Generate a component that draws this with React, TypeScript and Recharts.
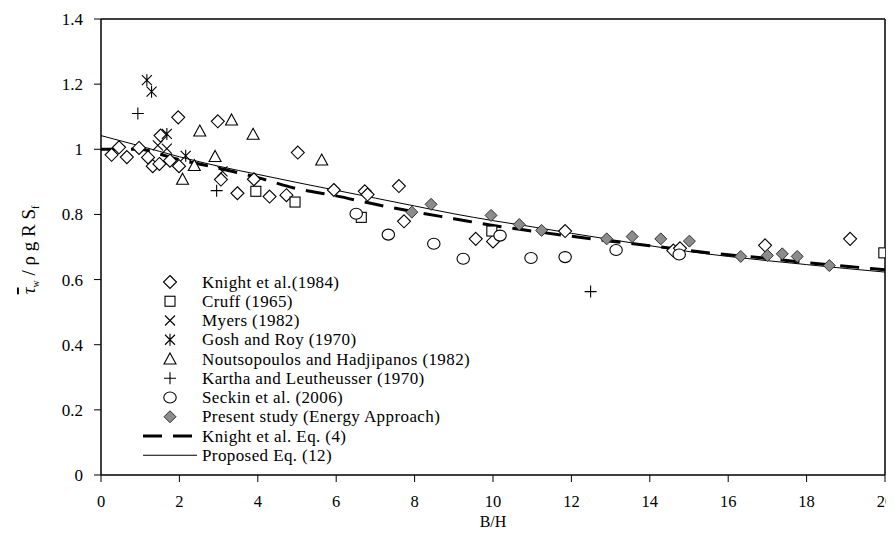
import React from 'react';
import { ComposedChart, Scatter, Line, XAxis, YAxis, ReferenceLine } from 'recharts';

// B/H vs normalised wall shear
const knight1984: [number, number][] = [
  [0.27, 0.983], [0.46, 1.006], [0.66, 0.976], [0.97, 1.004], [1.2, 0.975], [1.32, 0.948],
  [1.49, 0.955], [1.52, 1.042], [1.76, 0.965], [1.97, 1.098], [1.99, 0.948], [2.98, 1.086],
  [3.06, 0.907], [3.48, 0.865], [3.9, 0.908], [4.3, 0.855], [4.73, 0.859], [5.02, 0.99],
  [5.94, 0.875], [6.73, 0.871], [6.8, 0.861], [7.6, 0.887], [7.73, 0.779], [9.56, 0.725],
  [10.0, 0.717], [11.84, 0.749], [14.6, 0.689], [14.77, 0.696], [16.94, 0.705], [19.11, 0.725],
];
const cruff1965: [number, number][] = [
  [3.95, 0.871], [4.95, 0.838], [6.64, 0.791], [9.97, 0.749], [19.97, 0.682],
];
const myers1982: [number, number][] = [
  [1.45, 1.012], [1.68, 1.002], [3.1, 0.932],
];
const goshRoy1970: [number, number][] = [
  [1.17, 1.212], [1.29, 1.177], [1.68, 1.047], [2.16, 0.98],
];
const noutsopoulos1982: [number, number][] = [
  [2.08, 0.908], [2.38, 0.95], [2.52, 1.056], [2.91, 0.978], [3.33, 1.09], [3.88, 1.046], [5.63, 0.967],
];
const kartha1970: [number, number][] = [
  [0.94, 1.11], [2.95, 0.873], [12.49, 0.563],
];
const seckin2006: [number, number][] = [
  [6.51, 0.802], [7.33, 0.738], [8.49, 0.71], [9.24, 0.664], [10.18, 0.735],
  [10.97, 0.666], [11.84, 0.669], [13.14, 0.691], [14.75, 0.677],
];
const presentStudy: [number, number][] = [
  [7.93, 0.807], [8.42, 0.831], [9.95, 0.797], [10.67, 0.769], [11.24, 0.751], [12.9, 0.725],
  [13.55, 0.732], [14.28, 0.725], [15.01, 0.718], [16.32, 0.671], [17.0, 0.674], [17.38, 0.679],
  [17.76, 0.671], [18.58, 0.643],
];
const knightEq4: [number, number][] = [
  [0, 1.0], [0.5, 1.0], [1, 1.0], [1.5, 0.985], [2, 0.968], [2.5, 0.955], [3, 0.942], [4, 0.913],
  [5, 0.879], [6, 0.857], [7, 0.831], [8, 0.808], [9, 0.787], [10, 0.766], [11, 0.749], [12, 0.733],
  [13, 0.718], [14, 0.704], [15, 0.689], [16, 0.676], [17, 0.665], [18, 0.652], [19, 0.641], [20, 0.63],
];
const proposedEq12: [number, number][] = [
  [0, 1.042], [1, 1.01], [2, 0.977], [3, 0.948], [4, 0.923], [5, 0.898], [6, 0.874], [7, 0.85],
  [8, 0.826], [9, 0.802], [10, 0.781], [11, 0.762], [12, 0.742], [13, 0.723], [14, 0.704],
  [15, 0.686], [16, 0.671], [17, 0.658], [18, 0.646], [19, 0.634], [20, 0.623],
];

const xTicks = [0, 2, 4, 6, 8, 10, 12, 14, 16, 18, 20];
const yTicks = [0, 0.2, 0.4, 0.6, 0.8, 1, 1.2, 1.4];

const legendLabels = [
  'Knight et al.(1984)',
  'Cruff (1965)',
  'Myers (1982)',
  'Gosh and Roy (1970)',
  'Noutsopoulos and Hadjipanos (1982)',
  'Kartha and Leutheusser (1970)',
  'Seckin et al. (2006)',
  'Present study (Energy Approach)',
  'Knight et al. Eq. (4)',
  'Proposed Eq. (12)',
];

const toPts = (arr: [number, number][]) => arr.map(([x, y]) => ({ x, y }));

const FONT = '"Liberation Serif", "Times New Roman", serif';

type Mark = 'diamond' | 'square' | 'x' | 'star' | 'triangle' | 'plus' | 'circle' | 'filled';

function marker(kind: Mark, cx: number, cy: number) {
  const s = { stroke: '#000', strokeWidth: 1.1, fill: 'none' };
  switch (kind) {
    case 'diamond':
      return <path d={`M${cx},${cy - 6.5}L${cx + 6.5},${cy}L${cx},${cy + 6.5}L${cx - 6.5},${cy}Z`} {...s} fill="#fff" />;
    case 'filled':
      return <path d={`M${cx},${cy - 6}L${cx + 6},${cy}L${cx},${cy + 6}L${cx - 6},${cy}Z`} stroke="#333" strokeWidth={1} fill="#8c8c8c" />;
    case 'square':
      return <rect x={cx - 5} y={cy - 5} width={10} height={10} {...s} fill="#fff" />;
    case 'circle':
      return <ellipse cx={cx} cy={cy} rx={6.2} ry={5.5} {...s} fill="#fff" />;
    case 'triangle':
      return <path d={`M${cx},${cy - 6}L${cx + 6},${cy + 5}L${cx - 6},${cy + 5}Z`} {...s} fill="#fff" />;
    case 'plus':
      return <path d={`M${cx - 6},${cy}H${cx + 6}M${cx},${cy - 6}V${cy + 6}`} {...s} />;
    case 'x':
      return <path d={`M${cx - 5},${cy - 5}L${cx + 5},${cy + 5}M${cx + 5},${cy - 5}L${cx - 5},${cy + 5}`} {...s} />;
    case 'star':
      return (
        <path
          d={`M${cx - 5},${cy - 5}L${cx + 5},${cy + 5}M${cx + 5},${cy - 5}L${cx - 5},${cy + 5}M${cx},${cy - 6}V${cy + 6}`}
          {...s}
        />
      );
  }
}

const shapeOf = (kind: Mark) => (props: any) => <g>{marker(kind, props.cx, props.cy)}</g>;

const legendMarks: Mark[] = ['diamond', 'square', 'x', 'star', 'triangle', 'plus', 'circle', 'filled'];

export default function App() {
  const W = 886;
  const H = 522;
  return (
    <div style={{ position: 'relative', width: W, height: H, background: '#fff' }}>
      <style>{'.recharts-surface{overflow:visible !important}'}</style>
      <ComposedChart width={W} height={H} margin={{ top: 11, right: 9, left: 0, bottom: 0 }}>
        <XAxis
          type="number"
          dataKey="x"
          domain={[0, 20]}
          ticks={xTicks}
          allowDataOverflow
          tickSize={7}
          tickMargin={13}
          height={55}
          axisLine={{ stroke: '#000', strokeWidth: 1.5 }}
          tickLine={{ stroke: '#000' }}
          tick={{ fill: '#000', fontSize: 16.5, fontFamily: FONT }}
        />
        <YAxis
          type="number"
          dataKey="y"
          domain={[0, 1.4]}
          ticks={yTicks}
          allowDataOverflow
          width={93}
          tickSize={7}
          tickMargin={11}
          axisLine={{ stroke: '#000', strokeWidth: 1.5 }}
          tickLine={{ stroke: '#000' }}
          tick={{ fill: '#000', fontSize: 17, fontFamily: FONT }}
          tickFormatter={(v: number) => String(Math.round(v * 10) / 10)}
        />
        <ReferenceLine y={1.4} stroke="#000" strokeWidth={1.5} />
        <ReferenceLine x={20} stroke="#000" strokeWidth={1.5} />
        <Line data={toPts(proposedEq12)} dataKey="y" type="monotone" stroke="#000" strokeWidth={1} dot={false} activeDot={false} isAnimationActive={false} />
        <Line data={toPts(knightEq4)} dataKey="y" type="monotone" stroke="#000" strokeWidth={3} strokeDasharray="19 11" dot={false} activeDot={false} isAnimationActive={false} />
        <Scatter data={toPts(knight1984)} dataKey="y" shape={shapeOf('diamond')} isAnimationActive={false} />
        <Scatter data={toPts(cruff1965)} dataKey="y" shape={shapeOf('square')} isAnimationActive={false} />
        <Scatter data={toPts(noutsopoulos1982)} dataKey="y" shape={shapeOf('triangle')} isAnimationActive={false} />
        <Scatter data={toPts(seckin2006)} dataKey="y" shape={shapeOf('circle')} isAnimationActive={false} />
        <Scatter data={toPts(presentStudy)} dataKey="y" shape={shapeOf('filled')} isAnimationActive={false} />
        <Scatter data={toPts(myers1982)} dataKey="y" shape={shapeOf('x')} isAnimationActive={false} />
        <Scatter data={toPts(goshRoy1970)} dataKey="y" shape={shapeOf('star')} isAnimationActive={false} />
        <Scatter data={toPts(kartha1970)} dataKey="y" shape={shapeOf('plus')} isAnimationActive={false} />
      </ComposedChart>
      <svg width={W} height={H} style={{ position: 'absolute', left: 0, top: 0, pointerEvents: 'none', overflow: 'visible' }}>
        {legendLabels.map((label, i) => {
          const y = 274 + i * 19.25;
          let sym: React.ReactNode;
          if (i < 8) {
            sym = marker(legendMarks[i], 162, y);
          } else if (i === 8) {
            sym = <line x1={135} x2={189} y1={y} y2={y} stroke="#000" strokeWidth={3} strokeDasharray="19 11" />;
          } else {
            sym = <line x1={135} x2={189} y1={y} y2={y} stroke="#000" strokeWidth={1} />;
          }
          return (
            <g key={label}>
              {sym}
              <text x={194} y={y + 5.5} fontSize={17} letterSpacing={0.4} fontFamily={FONT} fill="#000">
                {label}
              </text>
            </g>
          );
        })}
        <text x={485} y={519} textAnchor="middle" fontSize={16} fontFamily={FONT} fill="#000">
          B/H
        </text>
        <text
          transform="translate(27,242) rotate(-90)"
          textAnchor="middle"
          fontSize={19}
          fontFamily={FONT}
          fill="#000"
        >
          <tspan fontStyle="italic" textDecoration="overline">τ</tspan>
          <tspan fontSize={10} dy={4}>w</tspan>
          <tspan dy={-4}> / ρ g R S</tspan>
          <tspan fontSize={10} dy={4}>f</tspan>
        </text>
      </svg>
    </div>
  );
}
